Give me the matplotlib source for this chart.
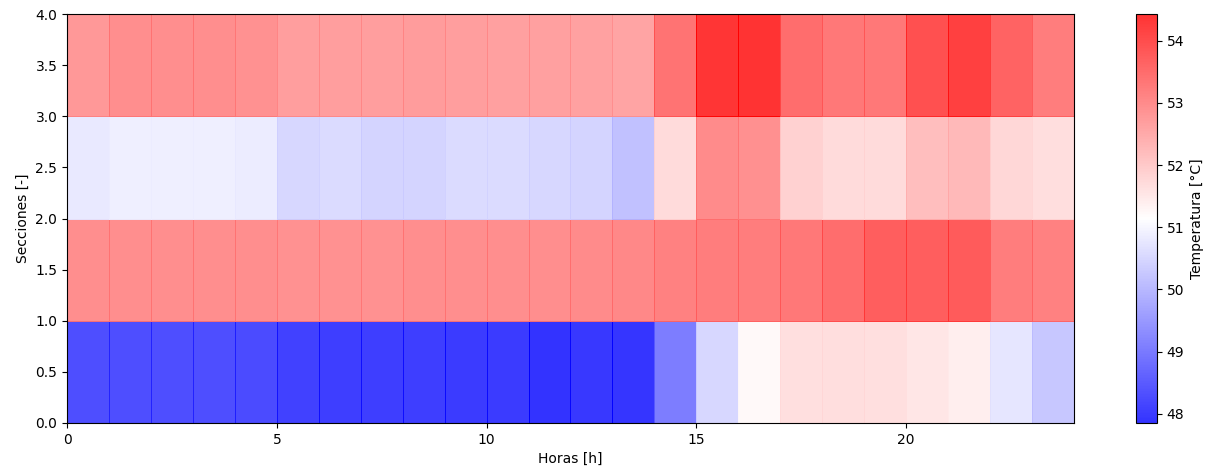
import numpy as np
import matplotlib
matplotlib.use('Agg')
import matplotlib.pyplot as plt

# horas (bordes de celda) y secciones
horas = np.arange(0, 25)
secciones = np.arange(0, 5)

# temperatura [°C] por seccion (fila) y hora (columna)
seccion_0 = [48.30, 48.30, 48.30, 48.30, 48.25, 48.10, 48.05, 48.05, 48.05, 48.00, 48.00, 47.85,
             47.95, 47.90, 49.04, 50.50, 51.22, 51.63, 51.67, 51.65, 51.54, 51.41, 50.74, 50.25]
seccion_1 = [52.95, 52.95, 52.95, 52.95, 52.95, 52.90, 52.90, 52.90, 52.95, 52.95, 52.95, 52.95,
             53.00, 53.05, 53.15, 53.24, 53.24, 53.32, 53.48, 53.72, 53.72, 53.77, 53.24, 53.15]
seccion_2 = [50.80, 50.90, 50.90, 50.90, 50.85, 50.50, 50.55, 50.45, 50.45, 50.55, 50.55, 50.50,
             50.45, 50.15, 51.71, 53.00, 52.92, 51.86, 51.73, 51.73, 52.19, 52.27, 51.78, 51.67]
seccion_3 = [52.80, 52.95, 52.95, 52.95, 52.90, 52.70, 52.70, 52.70, 52.72, 52.70, 52.68, 52.68,
             52.65, 52.60, 53.40, 54.40, 54.43, 53.48, 53.32, 53.32, 53.96, 54.20, 53.64, 53.24]

T = np.array([seccion_0, seccion_1, seccion_2, seccion_3])

fig = plt.figure(figsize=(12.19, 4.71), dpi=100)
ax = fig.add_axes([0.055, 0.102, 0.826, 0.868])
cax = fig.add_axes([0.932, 0.102, 0.0172, 0.868])

# alpha deja ver las juntas entre celdas, como en el original
pc = ax.pcolormesh(horas, secciones, T, cmap='bwr', alpha=0.8,
                   edgecolors='face', linewidth=0.4)
ax.set_xlabel('Horas [h]')
ax.set_ylabel('Secciones [-]')
ax.set_yticks(np.arange(0, 4.5, 0.5))

cb = fig.colorbar(pc, cax=cax)
cb.set_label('Temperatura [°C]')

fig.savefig('out.png', dpi=100)
